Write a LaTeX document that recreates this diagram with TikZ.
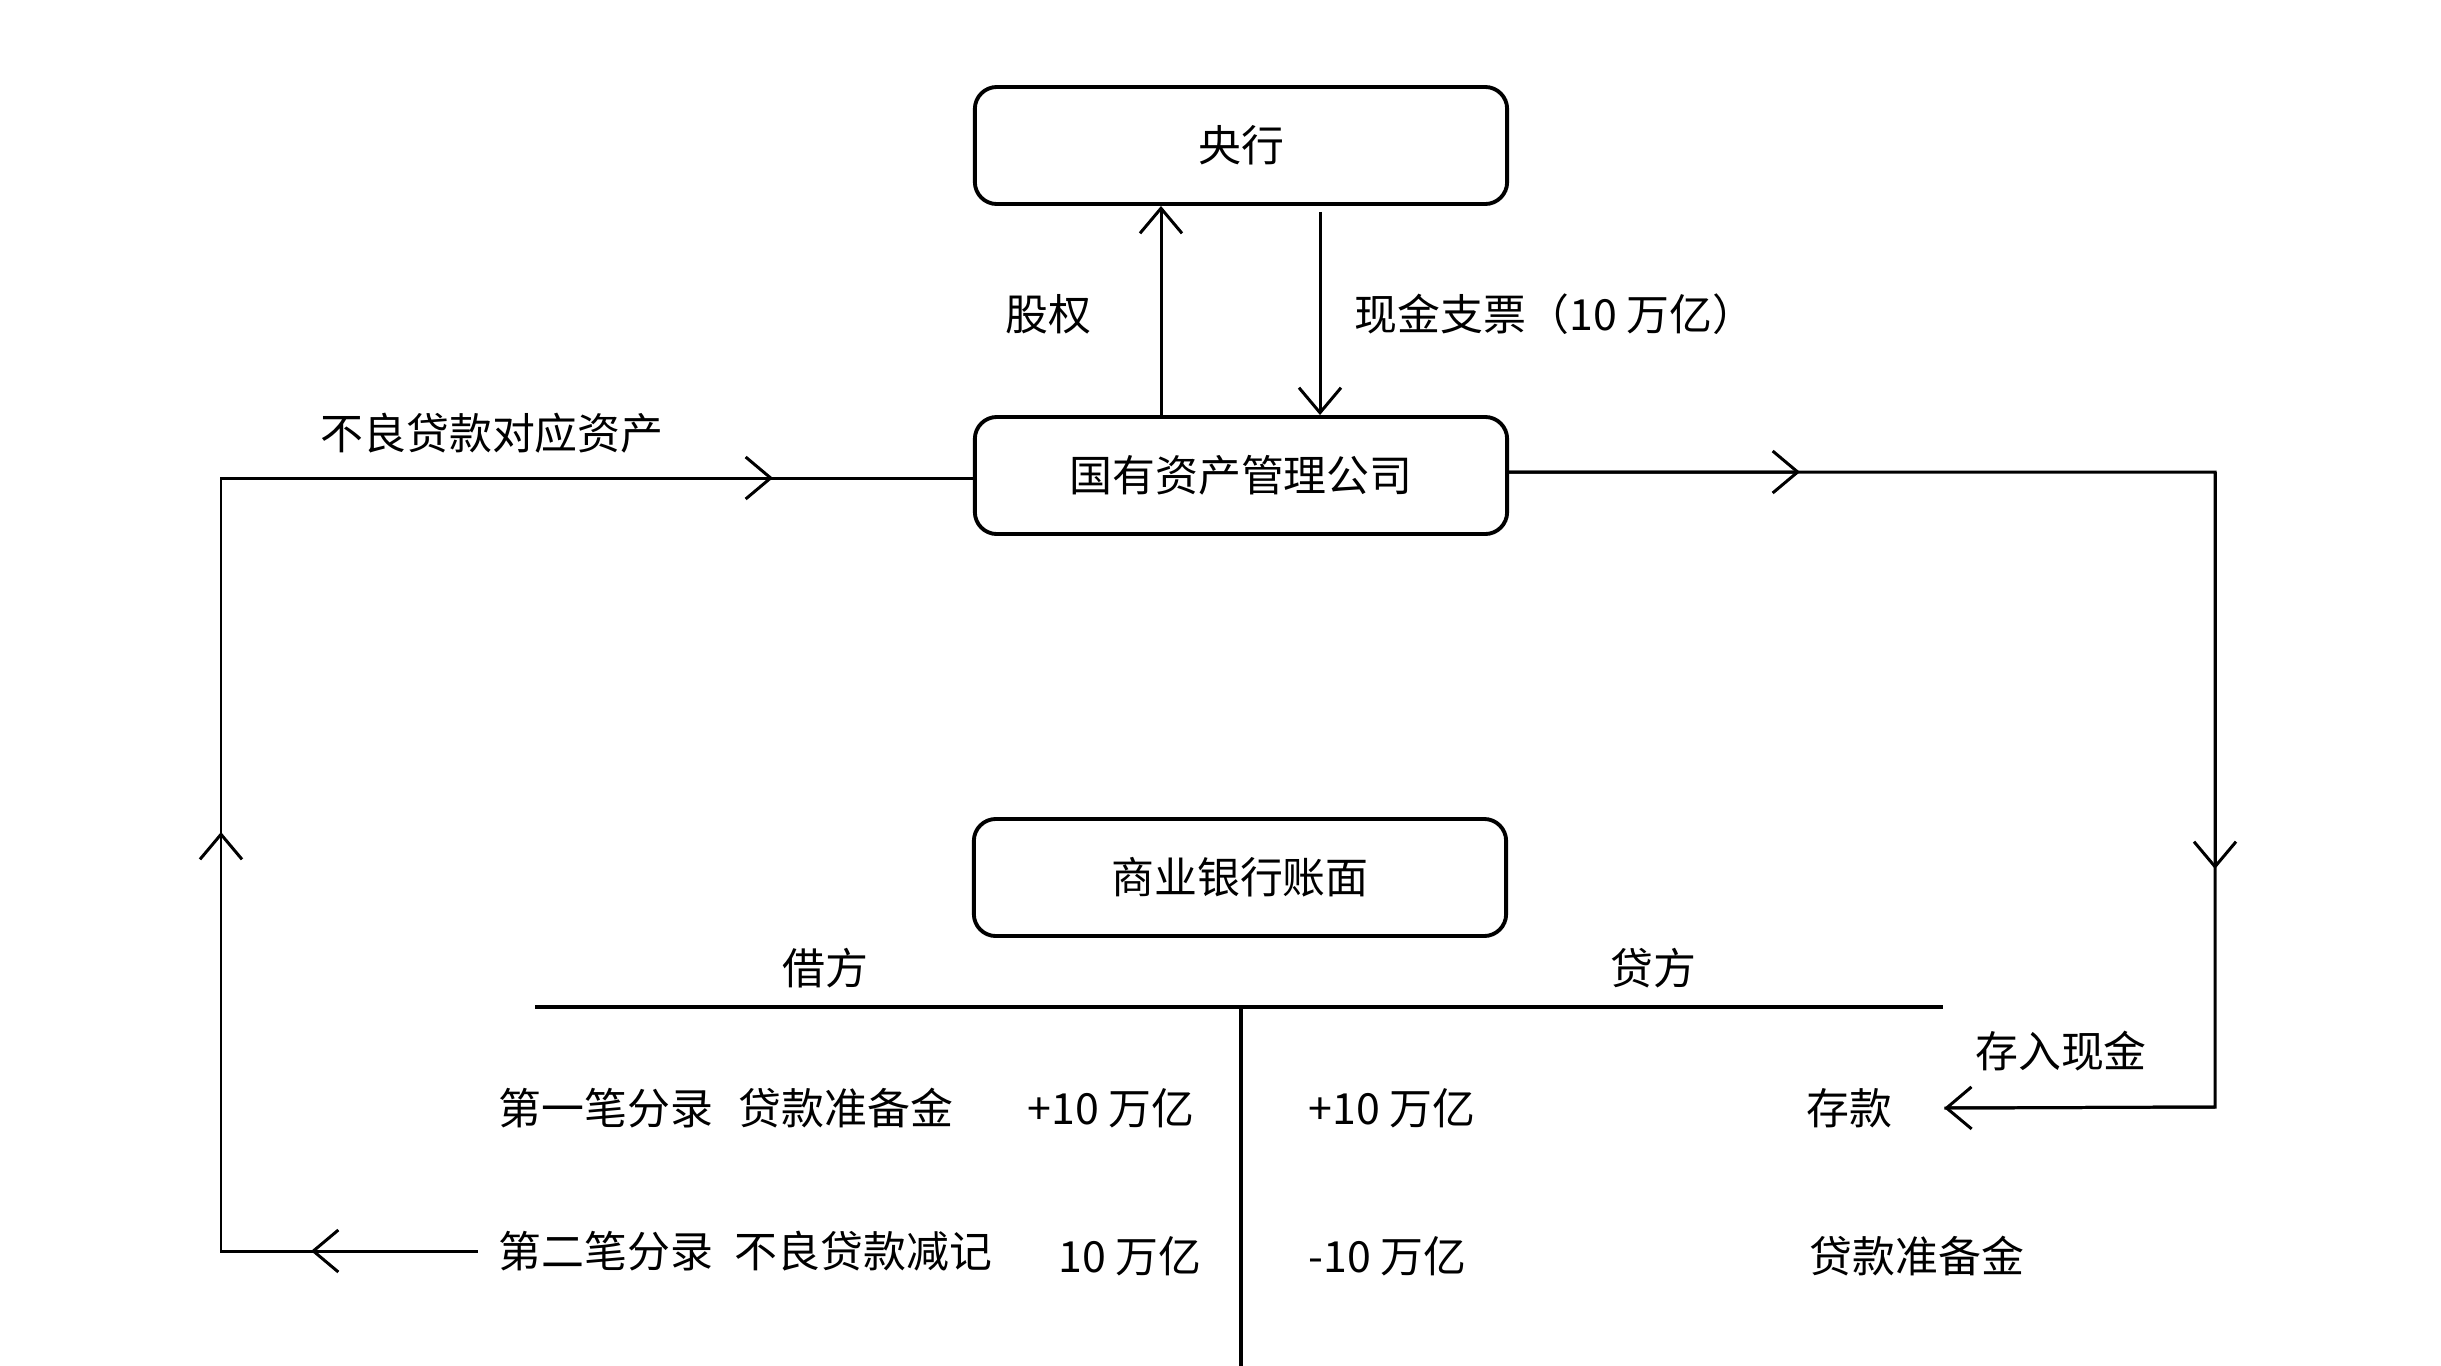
\documentclass[tikz,border=0pt]{standalone}
\usepackage{fontspec}
\setmainfont{Noto Sans CJK SC}
\usetikzlibrary{arrows.meta}
\begin{document}
\begin{tikzpicture}[x=0.01cm,y=-0.01cm,
  font=\fontsize{12.2pt}{14pt}\selectfont,
  box/.style={draw, line width=1.1pt, rounded corners=0.22cm, minimum width=5.32cm, minimum height=1.17cm, inner sep=0},
  conn/.style={line width=0.85pt},
  tip/.style={line width=0.85pt, -{Straight Barb[length=0.25cm,width=0.42cm]}},
  lbl/.style={inner sep=0, anchor=west},
  clbl/.style={inner sep=0},
  tline/.style={line width=1.1pt}]
\useasboundingbox (0,0) rectangle (2441,1366);

% boxes
\node[box] (yang) at (1241,145.5) {央行};
\node[box] (guo) at (1241,475.5) {国有资产管理公司};
\node[box] (shang) at (1240,877.5) {商业银行账面};

% central bank <-> AMC
\coordinate (xa) at (1161,0);
\coordinate (xb) at (1320,0);
\draw[tip] (xa |- guo.north) -- (xa |- yang.south);
\draw[tip] ([yshift=-0.06cm]xb |- yang.south) -- (xb |- guo.north);
\node[clbl] (gq) at (1048,314) {股权};
\node[lbl] (xj) at (1354,314) {现金支票（10 万亿）};

% T account
\coordinate (tl) at (535,1007);
\coordinate (tr) at (1943,1007);
\coordinate (tm) at (1241,1007);
\coordinate (tb) at (1241,1366);
\draw[tline] (tl) -- (tr);
\draw[tline] (tm) -- (tb);
\node[clbl] (jf) at (825,968) {借方};
\node[clbl] (df) at (1653,968) {贷方};

% rows
\node[lbl] (r1a) at (498,1108) {第一笔分录\hspace{0.6em}贷款准备金};
\node[lbl] (r1b) at (1027,1108) {+10 万亿};
\node[lbl] (r1c) at (1308,1108) {+10 万亿};
\node[lbl] (ck) at (1806,1108) {存款};
\node[lbl] (r2a) at (498,1251) {第二笔分录\hspace{0.5em}不良贷款减记};
\node[lbl] (r2b) at (1058,1256) {10 万亿};
\node[lbl] (r2c) at (1308,1256) {-10 万亿};
\node[lbl] (r2d) at (1809,1256) {贷款准备金};

% left loop
\coordinate (L0) at ([xshift=-0.2cm]r2a.west);
\coordinate (L1) at (221,1251);
\coordinate (L2) at (221,478);
\draw[conn] (L0) -- (L1) -- (L2) -- (L2 -| guo.west);
\draw[tip] (L0) -- (311,1251);
\draw[tip] (L1) -- (221,832);
\draw[tip] (L2) -- (773,478);
\node[clbl] (bl) at (492,433) {不良贷款对应资产};

% right loop
\coordinate (R0) at ([yshift=0.035cm]guo.east);
\coordinate (R1) at (2215,472);
\coordinate (R2) at (2215,1107);
\coordinate (R3) at ([xshift=0.51cm]ck.east);
\draw[conn] (R0) -- (R1) -- (R2) -- (R3);
\draw[tip] (R0) -- (1800,472);
\draw[tip] (R1) -- (2215,869);
\draw[tip] (R2) -- (R3);
\node[clbl] (cr) at (2061,1051) {存入现金};
\end{tikzpicture}
\end{document}
